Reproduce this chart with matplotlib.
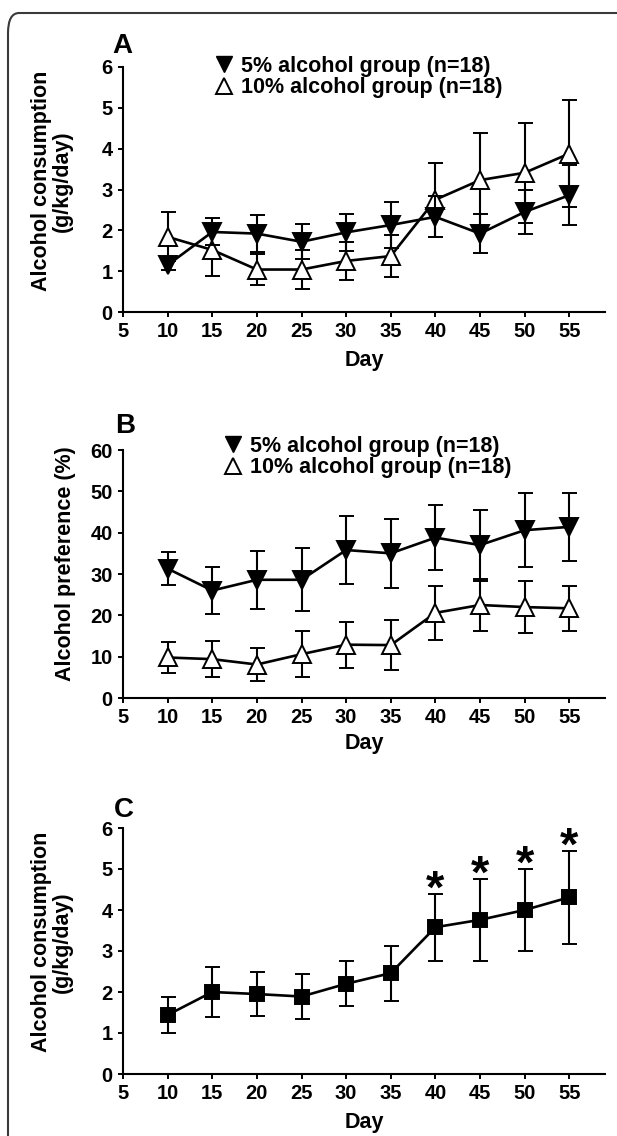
import matplotlib.pyplot as plt
from matplotlib.lines import Line2D
from matplotlib.patches import FancyBboxPatch

plt.rcParams['font.family'] = ['Liberation Sans', 'DejaVu Sans']
plt.rcParams['font.weight'] = 'bold'

days = [10, 15, 20, 25, 30, 35, 40, 45, 50, 55]

# panel A: consumption (g/kg/day)
cons5 = [1.15, 1.96, 1.92, 1.72, 1.95, 2.13, 2.33, 1.92, 2.45, 2.86]
cons5_err = [0.12, 0.33, 0.45, 0.43, 0.45, 0.57, 0.50, 0.48, 0.55, 0.74]
cons10 = [1.84, 1.52, 1.04, 1.04, 1.25, 1.37, 2.75, 3.23, 3.41, 3.88]
cons10_err = [0.60, 0.63, 0.39, 0.48, 0.47, 0.52, 0.91, 1.16, 1.23, 1.32]

# panel B: preference (%)
pref5 = [31.3, 26.0, 28.6, 28.6, 35.8, 35.0, 38.8, 37.0, 40.6, 41.4]
pref5_err = [4.0, 5.7, 7.0, 7.6, 8.2, 8.4, 7.8, 8.6, 9.0, 8.2]
pref10 = [9.8, 9.4, 8.1, 10.6, 12.9, 12.8, 20.6, 22.5, 22.0, 21.7]
pref10_err = [3.7, 4.4, 3.9, 5.5, 5.6, 6.1, 6.6, 6.3, 6.3, 5.5]

# panel C: all animals
consall = [1.44, 2.00, 1.95, 1.89, 2.20, 2.46, 3.58, 3.76, 4.00, 4.31]
consall_err = [0.43, 0.60, 0.53, 0.55, 0.55, 0.67, 0.82, 1.00, 1.01, 1.14]
starred = [40, 45, 50, 55]

legend_labels = ['5% alcohol group (n=18)', '10% alcohol group (n=18)']

W_PX, H_PX = 617, 1136
fig = plt.figure(figsize=(W_PX / 100, H_PX / 100), dpi=100)


def fx(px):
    return px / W_PX


def fy(py):
    # pixel row from the top -> figure fraction
    return 1 - py / H_PX


# rounded frame, its right and bottom sides fall outside the picture
frame = FancyBboxPatch((fx(8), -0.05), 1.2, fy(13) + 0.05,
                       boxstyle='round,pad=0,rounding_size=0.018',
                       transform=fig.transFigure, fill=False,
                       edgecolor='#3a3a3a', linewidth=1.5, clip_on=False)
fig.patches.append(frame)

left, width = fx(123), fx(605) - fx(123)
axA = fig.add_axes([left, fy(312), width, fy(67) - fy(312)])
axB = fig.add_axes([left, fy(698), width, fy(450) - fy(698)])
axC = fig.add_axes([left, fy(1074), width, fy(828) - fy(1074)])

eb = dict(color='black', linewidth=1.9, elinewidth=1.5, capsize=5.4,
          capthick=1.6, markeredgewidth=1.4)
FS = 15.5


def style(ax, ymax, ystep, ylab, ylab_x, ylab_y, day_y):
    ax.set_xlim(5, 59)
    ax.set_ylim(0, ymax)
    ax.set_xticks(range(5, 60, 5))
    ax.set_yticks(range(0, ymax + 1, ystep))
    for s in ['top', 'right']:
        ax.spines[s].set_visible(False)
    for s in ['left', 'bottom']:
        ax.spines[s].set_linewidth(1.5)
    ax.tick_params(direction='out', length=3.5, width=1.4, labelsize=14.5)
    ax.tick_params(axis='x', pad=4)
    ax.tick_params(axis='y', pad=4)
    for lab in ax.get_xticklabels() + ax.get_yticklabels():
        lab.set_fontweight('bold')
    ax.set_xlabel('Day', fontsize=FS, fontweight='bold')
    ax.xaxis.label.set_va('baseline')
    ax.xaxis.set_label_coords(fx(364), fy(day_y), transform=fig.transFigure)
    ax.set_ylabel(ylab, fontsize=FS, fontweight='bold', linespacing=0.95)
    ax.yaxis.label.set_va('center')
    ax.yaxis.set_label_coords(fx(ylab_x), fy(ylab_y),
                              transform=fig.transFigure)


def legend(ax, x0, ytop):
    handles = [Line2D([], [], linestyle='none', marker='v', markersize=12,
                      markerfacecolor='black', markeredgecolor='black'),
               Line2D([], [], linestyle='none', marker='^', markersize=12,
                      markerfacecolor='white', markeredgecolor='black',
                      markeredgewidth=1.4)]
    ax.legend(handles, legend_labels, loc='upper left',
              bbox_to_anchor=(fx(x0), fy(ytop)), bbox_transform=fig.transFigure,
              frameon=False, fontsize=FS, handlelength=1.0,
              handletextpad=0.3, labelspacing=0.02, borderpad=0,
              borderaxespad=0)


def panel_letter(letter, x, baseline):
    fig.text(fx(x), fy(baseline), letter, fontsize=20, fontweight='bold',
             ha='left', va='baseline')


# A
axA.errorbar(days, cons10, yerr=cons10_err, marker='^', markersize=13,
             markerfacecolor='white', markeredgecolor='black', zorder=3, **eb)
axA.errorbar(days, cons5, yerr=cons5_err, marker='v', markersize=13,
             markerfacecolor='black', zorder=4, **eb)
style(axA, 6, 1, 'Alcohol consumption\n(g/kg/day)', 52, 181, 366)
legend(axA, 213, 56)
panel_letter('A', 112, 53)

# B
axB.errorbar(days, pref10, yerr=pref10_err, marker='^', markersize=13,
             markerfacecolor='white', markeredgecolor='black', zorder=3, **eb)
axB.errorbar(days, pref5, yerr=pref5_err, marker='v', markersize=13,
             markerfacecolor='black', zorder=4, **eb)
style(axB, 60, 10, 'Alcohol preference (%)', 65, 564, 749)
legend(axB, 222, 436)
panel_letter('B', 115, 433)

# C
axC.errorbar(days, consall, yerr=consall_err, marker='s', markersize=10,
             markerfacecolor='black', zorder=3, **eb)
style(axC, 6, 1, 'Alcohol consumption\n(g/kg/day)', 52, 942, 1128)
star_fs = 34
for d in starred:
    i = days.index(d)
    axC.annotate('*', xy=(d, consall[i] + consall_err[i]),
                 xytext=(0, 8 - 0.43 * star_fs), textcoords='offset points',
                 fontsize=star_fs, fontweight='bold', ha='center',
                 va='baseline')
panel_letter('C', 114, 817)

fig.savefig('out.png', dpi=100)
